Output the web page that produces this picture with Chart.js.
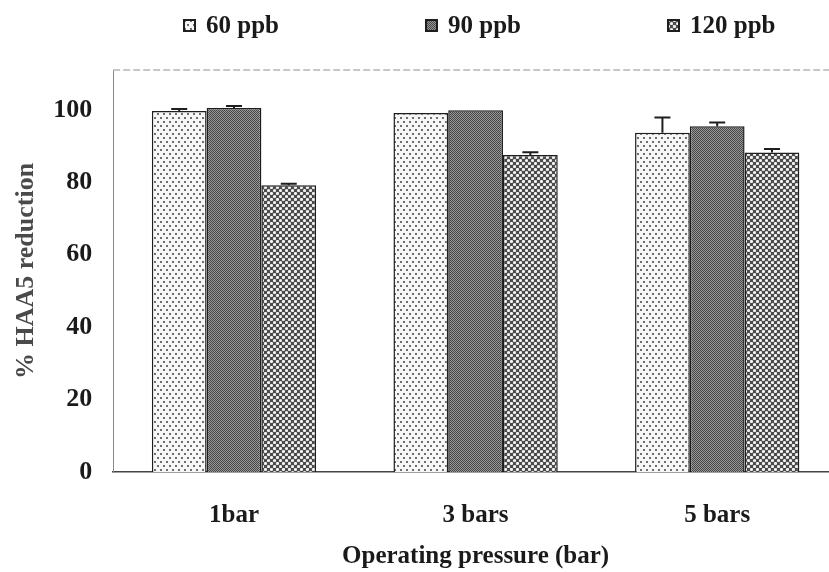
<!DOCTYPE html>
<html>
<head>
<meta charset="utf-8">
<title>HAA5 reduction</title>
<script src="https://cdn.jsdelivr.net/npm/chart.js@4.4.0/dist/chart.umd.min.js"></script>
<style>
    html, body { margin: 0; padding: 0; background: #fff; overflow: hidden; }
    .wrap { position: relative; width: 845px; height: 572px; }
    #legend {
        position: absolute; top: 11px; left: 183px; display: flex;
        font: bold 25px "Liberation Serif", serif; color: #1a1a1a;
    }
    #legend .item { width: 242px; display: flex; align-items: center; }
    #legend canvas { margin-right: 10px; }
</style>
</head>
<body>
<div class="wrap">
    <div id="legend"></div>
    <canvas id="haaChart"></canvas>
</div>
<script>
// Operating pressures and % HAA5 reduction per initial concentration
const pressures = ['1bar', '3 bars', '5 bars'];
const seriesNames = ['60 ppb', '90 ppb', '120 ppb'];
const ppb60 = [99.7, 99.1, 93.7];
const ppb90 = [100.5, 99.9, 95.5];
const ppb120 = [79.2, 87.5, 88.2];
// upper error (standard deviation)
const err60 = [0.55, 0, 4.2];
const err90 = [0.55, 0, 1.0];
const err120 = [0.4, 0.8, 1.0];
const yTicks = [0, 20, 40, 60, 80, 100];

// fill patterns for the three series
function makePattern(kind) {
    const c = document.createElement('canvas');
    const g = c.getContext('2d');
    if (kind === 'dots') {
        c.width = 6; c.height = 8;
        g.fillStyle = '#f6f6f6';
        g.fillRect(0, 0, 6, 8);
        g.fillStyle = '#6e6e6e';
        g.fillRect(1, 1, 2, 2);
        g.fillRect(4, 5, 2, 2);
    } else if (kind === 'check') {
        c.width = 2; c.height = 2;
        g.fillStyle = '#989898';
        g.fillRect(0, 0, 2, 2);
        g.fillStyle = '#474747';
        g.fillRect(0, 0, 1, 1);
        g.fillRect(1, 1, 1, 1);
    } else {
        c.width = 6; c.height = 6;
        g.fillStyle = '#4a4a4a';
        g.fillRect(0, 0, 6, 6);
        g.fillStyle = '#f2f2f2';
        g.beginPath();
        g.arc(1.5, 1.5, 1.6, 0, Math.PI * 2);
        g.arc(4.5, 4.5, 1.6, 0, Math.PI * 2);
        g.fill();
        g.beginPath();
        g.arc(7.5, 1.5, 1.6, 0, Math.PI * 2);
        g.fill();
    }
    return g.createPattern(c, 'repeat');
}

const fills = [makePattern('dots'), makePattern('check'), makePattern('hatch')];
const values = [ppb60, ppb90, ppb120];
const errors = [err60, err90, err120];

// draws the upper error bars on top of each bar
const errorBars = {
    id: 'errorBars',
    afterDatasetsDraw(chart) {
        const ctx = chart.ctx;
        const y = chart.scales.y;
        chart.data.datasets.forEach((ds, i) => {
            chart.getDatasetMeta(i).data.forEach((bar, j) => {
                const e = errors[i][j];
                if (!e) return;
                const top = y.getPixelForValue(ds.data[j] + e);
                ctx.save();
                ctx.strokeStyle = '#1e1e1e';
                ctx.lineWidth = 2;
                ctx.beginPath();
                ctx.moveTo(bar.x, bar.y);
                ctx.lineTo(bar.x, top);
                ctx.moveTo(bar.x - 8, top);
                ctx.lineTo(bar.x + 8, top);
                ctx.stroke();
                ctx.restore();
            });
        });
    }
};

// faint dashed top edge of the plot area
const topEdge = {
    id: 'topEdge',
    beforeDatasetsDraw(chart) {
        const { ctx, chartArea: a } = chart;
        ctx.save();
        ctx.strokeStyle = '#b5b5b5';
        ctx.lineWidth = 1.5;
        ctx.setLineDash([7, 3]);
        ctx.beginPath();
        ctx.moveTo(a.left, a.top);
        ctx.lineTo(a.right, a.top);
        ctx.stroke();
        ctx.restore();
    }
};

Chart.defaults.font.family = "'Liberation Serif', serif";
Chart.defaults.font.weight = 'bold';
Chart.defaults.font.size = 25;
Chart.defaults.color = '#1a1a1a';

const chart = new Chart(document.getElementById('haaChart').getContext('2d'), {
    type: 'bar',
    data: {
        labels: pressures,
        datasets: seriesNames.map((name, i) => ({
            label: name,
            data: values[i],
            backgroundColor: fills[i],
            borderColor: '#1e1e1e',
            borderWidth: 1.5,
            categoryPercentage: 0.68,
            barPercentage: 1.0
        }))
    },
    options: {
        responsive: true,
        maintainAspectRatio: false,
        animation: false,
        layout: { padding: { top: 70, left: 9, right: 7, bottom: 0 } },
        plugins: {
            legend: { display: false },
            tooltip: { enabled: false }
        },
        scales: {
            x: {
                grid: { display: false, tickLength: 25 },
                border: { color: '#444', width: 1.5 },
                ticks: { padding: 4 },
                title: {
                    display: true,
                    text: 'Operating pressure (bar)',
                    padding: { top: 7, bottom: 0 }
                }
            },
            y: {
                min: 0,
                max: 111,
                grid: { display: false, tickLength: 11 },
                border: { color: '#8a8a8a', width: 1 },
                afterBuildTicks(scale) {
                    scale.ticks = yTicks.map(v => ({ value: v }));
                },
                ticks: { padding: 10, font: { size: 26 } },
                title: {
                    display: true,
                    text: '% HAA5 reduction',
                    color: '#4a4a4a',
                    font: { size: 26 },
                    padding: { top: 2, bottom: 1 }
                }
            }
        }
    },
    plugins: [errorBars, topEdge]
});

// legend row above the plot
const legend = document.getElementById('legend');
chart.data.datasets.forEach((ds, i) => {
    const item = document.createElement('div');
    item.className = 'item';
    const sw = document.createElement('canvas');
    sw.width = 13; sw.height = 13;
    const g = sw.getContext('2d');
    g.fillStyle = fills[i];
    g.fillRect(0, 0, 13, 13);
    g.strokeStyle = '#1e1e1e';
    g.lineWidth = 2;
    g.strokeRect(1, 1, 11, 11);
    item.appendChild(sw);
    const label = document.createElement('span');
    label.textContent = ds.label;
    item.appendChild(label);
    legend.appendChild(item);
});
</script>
</body>
</html>
